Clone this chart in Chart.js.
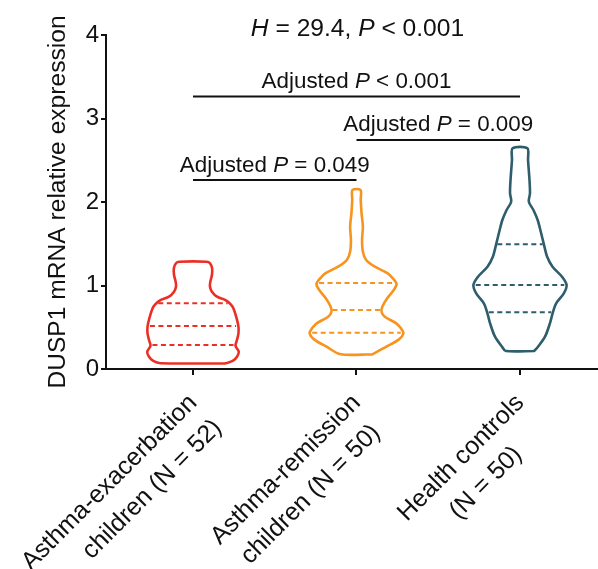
<!DOCTYPE html>
<html><head><meta charset="utf-8">
<script src="https://cdn.jsdelivr.net/npm/chart.js@4.4.1/dist/chart.umd.min.js"></script>
<style>html,body{margin:0;padding:0;background:#fff;}#wrap{width:598px;height:569px;}</style>
</head><body><div id="wrap"><canvas id="c" width="598" height="569"></canvas></div>
<script>
// ---------- data ----------
const categories = [
  ['Asthma-exacerbation', 'children (N = 52)'],
  ['Asthma-remission', 'children (N = 50)'],
  ['Health controls', '(N = 50)']
];
const yTicks = [0, 1, 2, 3, 4];
const yTitle = 'DUSP1 mRNA relative expression';

// violin density profiles: expression levels and half-widths (in category units)
const redLevels = [0.068,0.096,0.147,0.207,0.279,0.347,0.427,0.507,0.607,0.727,0.775,0.826,0.866,0.926,0.986,1.046,1.126,1.206,1.266,1.285];
const redHalfWidths = [0.199,0.243,0.269,0.280,0.260,0.269,0.278,0.278,0.267,0.247,0.231,0.199,0.147,0.116,0.104,0.106,0.116,0.117,0.104,0.084];
const orangeLevels = [0.176,0.267,0.355,0.427,0.487,0.547,0.626,0.686,0.746,0.846,0.946,1.018,1.086,1.146,1.225,1.305,1.405,1.545,1.704,1.865,2.024,2.144];
const orangeHalfWidths = [0.097,0.183,0.260,0.287,0.272,0.243,0.173,0.153,0.158,0.188,0.228,0.245,0.222,0.191,0.112,0.059,0.039,0.034,0.039,0.031,0.026,0.0245];
const tealLevels = [0.216,0.267,0.387,0.547,0.679,0.787,0.906,1.006,1.105,1.225,1.345,1.493,1.644,1.784,1.904,2.004,2.104,2.263,2.503,2.643];
const tealHalfWidths = [0.087,0.110,0.153,0.183,0.201,0.221,0.268,0.285,0.257,0.199,0.166,0.146,0.127,0.108,0.082,0.054,0.061,0.058,0.049,0.045];

// quartiles per group
const q1Values = [0.287, 0.435, 0.679];
const medianValues = [0.515, 0.707, 1.006];
const q3Values = [0.787, 1.03, 1.493];

// statistics
const overallH = '29.4';
const overallP = '< 0.001';
const compPairs = [[0, 2], [1, 2], [0, 1]];
const compHeights = [3.263, 2.743, 2.263];
const compP = ['< 0.001', '= 0.009', '= 0.049'];

// ---------- styling ----------
const colors = ['#ec2f25', '#f7941d', '#2e5d6b'];
const FONT = "'Liberation Sans', Arial, Helvetica, sans-serif";
const INK = '#111';

const profiles = [
  [redLevels, redHalfWidths],
  [orangeLevels, orangeHalfWidths],
  [tealLevels, tealHalfWidths]
];

function violinPoints(c, levels, hws) {
  const pts = [];
  for (let i = 0; i < levels.length; i++) pts.push({x: c + hws[i], y: levels[i]});
  for (let i = levels.length - 1; i >= 0; i--) pts.push({x: c - hws[i], y: levels[i]});
  pts.push({x: c + hws[0], y: levels[0]});
  return pts;
}
function interp(levels, hws, v) {
  if (v <= levels[0]) return hws[0];
  for (let i = 1; i < levels.length; i++) {
    if (v <= levels[i]) {
      const t = (v - levels[i-1]) / (levels[i] - levels[i-1]);
      return hws[i-1] + t * (hws[i] - hws[i-1]);
    }
  }
  return hws[hws.length - 1];
}

const datasets = [];
profiles.forEach(([lv, hw], g) => {
  datasets.push({
    data: violinPoints(g, lv, hw), showLine: true, borderColor: colors[g],
    borderWidth: 2.6, pointRadius: 0, tension: 0.3, fill: false,
    borderJoinStyle: 'round', borderCapStyle: 'round'
  });
  [q1Values[g], medianValues[g], q3Values[g]].forEach(q => {
    const h = interp(lv, hw, q) * 0.95;
    datasets.push({
      data: [{x: g - h, y: q}, {x: g + h, y: q}], showLine: true,
      borderColor: colors[g], borderWidth: 2, borderDash: [5, 3.5], pointRadius: 0
    });
  });
});
compPairs.forEach((p, k) => {
  datasets.push({
    data: [{x: p[0], y: compHeights[k]}, {x: p[1], y: compHeights[k]}], showLine: true,
    borderColor: INK, borderWidth: 2, pointRadius: 0
  });
});

function drawRuns(ctx, runs, cx, by, size) {
  let total = 0;
  runs.forEach(r => { ctx.font = (r.i ? 'italic ' : '') + size + 'px ' + FONT; r.w = ctx.measureText(r.t).width; total += r.w; });
  let x = cx - total / 2;
  ctx.textAlign = 'left'; ctx.textBaseline = 'alphabetic'; ctx.fillStyle = INK;
  runs.forEach(r => { ctx.font = (r.i ? 'italic ' : '') + size + 'px ' + FONT; ctx.fillText(r.t, x, by); x += r.w; });
}

const textPlugin = {
  id: 'texts',
  afterDraw(chart) {
    const ctx = chart.ctx, xs = chart.scales.x, ys = chart.scales.y;
    ctx.save();
    // overall test
    drawRuns(ctx, [{t: 'H', i: true}, {t: ' = ' + overallH + ', '}, {t: 'P', i: true}, {t: ' ' + overallP}],
      xs.getPixelForValue(1) + 1, ys.getPixelForValue(4) + 1, 24.6);
    // pairwise comparisons
    compPairs.forEach((p, k) => {
      const cx = (xs.getPixelForValue(p[0]) + xs.getPixelForValue(p[1])) / 2;
      drawRuns(ctx, [{t: 'Adjusted '}, {t: 'P', i: true}, {t: ' ' + compP[k]}], cx, ys.getPixelForValue(compHeights[k]) - 8.5, 22.4);
    });
    // rotated category labels
    const align = ['right', 'center', 'center'];
    categories.forEach((lines, i) => {
      const tx = xs.getPixelForValue(i);
      ctx.save();
      ctx.translate(tx + 5, ys.bottom + 35);
      ctx.rotate(-Math.PI / 4);
      ctx.font = '25px ' + FONT; ctx.fillStyle = INK; ctx.textBaseline = 'alphabetic';
      const w1 = ctx.measureText(lines[0]).width;
      ctx.textAlign = 'right';
      ctx.fillText(lines[0], 0, 0);
      if (align[i] === 'right') { ctx.textAlign = 'right'; ctx.fillText(lines[1], 0, 35); }
      else { ctx.textAlign = 'center'; ctx.fillText(lines[1], -w1 / 2, 35); }
      ctx.restore();
    });
    ctx.restore();
  }
};

new Chart(document.getElementById('c'), {
  type: 'scatter',
  data: {datasets},
  options: {
    responsive: false, animation: false, events: [],
    layout: {padding: {top: 35, right: 0, bottom: 0, left: 0}},
    plugins: {legend: {display: false}, tooltip: {enabled: false}},
    scales: {
      x: {
        type: 'linear', min: -0.532, max: 2.477,
        afterBuildTicks(s) { s.ticks = categories.map((c, i) => ({value: i})); },
        afterFit(s) { s.height = 200; },
        ticks: {display: false},
        grid: {display: true, drawOnChartArea: false, drawTicks: true, tickLength: 6, color: INK, lineWidth: 2},
        border: {display: true, color: INK, width: 2}
      },
      y: {
        min: 0, max: 4,
        afterBuildTicks(s) { s.ticks = yTicks.map(v => ({value: v})); },
        afterFit(s) { s.width = 106; },
        ticks: {color: INK, font: {family: FONT, size: 24}, padding: 2},
        grid: {display: true, drawOnChartArea: false, drawTicks: true, tickLength: 5, color: INK, lineWidth: 2},
        border: {display: true, color: INK, width: 2},
        title: {display: true, text: yTitle, color: INK, font: {family: FONT, size: 24.6}, padding: {top: 43, bottom: 0}}
      }
    }
  },
  plugins: [textPlugin]
});
</script></body></html>
